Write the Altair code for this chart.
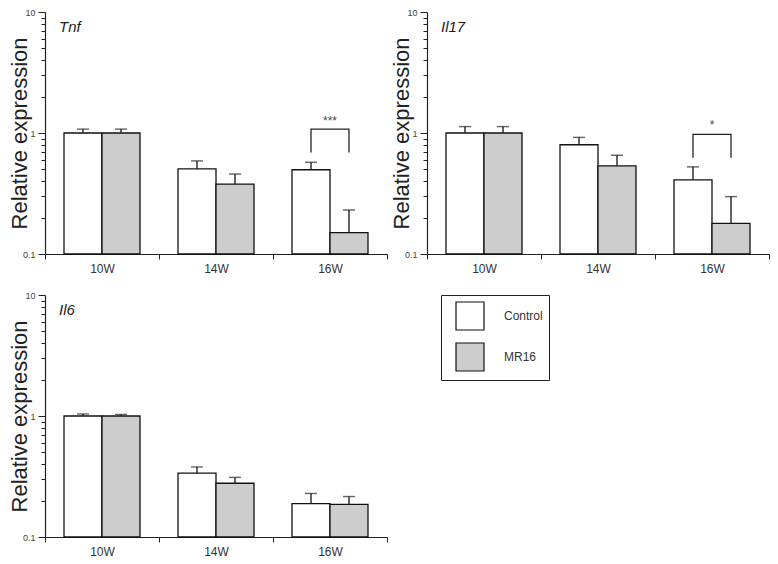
import altair as alt
import pandas as pd

FONT = "Liberation Sans"

weeks = ["10W", "14W", "16W"]
groups = ["Control", "MR16"]

tnf_control = [1.0, 0.506, 0.497]
tnf_control_se = [0.077, 0.082, 0.076]
tnf_mr16 = [1.0, 0.378, 0.150]
tnf_mr16_se = [0.077, 0.080, 0.081]

il17_control = [1.0, 0.80, 0.41]
il17_control_se = [0.13, 0.12, 0.115]
il17_mr16 = [1.0, 0.534, 0.179]
il17_mr16_se = [0.13, 0.121, 0.119]

il6_control = [1.0, 0.337, 0.189]
il6_control_se = [0.04, 0.042, 0.040]
il6_mr16 = [1.0, 0.278, 0.186]
il6_mr16_se = [0.03, 0.033, 0.030]

# significance: (week, bracket leg bottom, bracket top, stars, star baseline)
tnf_sig = ("16W", 0.69, 1.077, "***", 1.17)
il17_sig = ("16W", 0.624, 0.975, "*", 1.07)

y_ticks = [0.1, 0.2, 0.3, 0.4, 0.5, 0.6, 0.7, 0.8, 0.9,
           1, 2, 3, 4, 5, 6, 7, 8, 9, 10]
y_domain = [0.1, 10]
gene_label_y = 6.8

W, H = 342, 242
MAJOR = "datum.value == 0.1 || datum.value == 1 || datum.value == 10"

y_scale = alt.Scale(type="log", domain=y_domain, nice=False)
y_axis = alt.Axis(
    title="Relative expression", titleFontSize=22, titleFontWeight="normal",
    titleColor="#222", titleFont=FONT, titleX=-14,
    values=y_ticks,
    labelExpr="(" + MAJOR + ") ? format(datum.value, '~g') : ''",
    tickSize={"condition": {"test": MAJOR, "value": 7}, "value": 4},
    labelFontSize=9, labelColor="#444", labelFont=FONT, labelPadding=3,
    grid=False, tickColor="#222", domainColor="#222", tickWidth=1, domainWidth=1.2,
)
x_scale = alt.Scale(domain=weeks, paddingInner=0, paddingOuter=0)
x_axis = alt.Axis(
    title=None, labelAngle=0, labelFontSize=12, labelColor="#333", labelFont=FONT,
    tickBand="extent", tickSize=5, tickColor="#222", domainColor="#222",
    labelPadding=4, tickWidth=1, domainWidth=1.2, grid=False,
)
xo_scale = alt.Scale(domain=groups, paddingInner=0, paddingOuter=0.5)


def X():
    return alt.X("week:N", sort=weeks, scale=x_scale, axis=x_axis, title=None)


def XO():
    return alt.XOffset("group:N", sort=groups, scale=xo_scale)


def Y(field):
    return alt.Y(field, type="quantitative", scale=y_scale, axis=y_axis,
                 title="Relative expression")


def make_panel(gene, control, control_se, mr16, mr16_se, sig, legend):
    rows = []
    for i, w in enumerate(weeks):
        rows.append({"week": w, "group": "Control", "mean": control[i],
                     "upper": control[i] + control_se[i]})
        rows.append({"week": w, "group": "MR16", "mean": mr16[i],
                     "upper": mr16[i] + mr16_se[i]})
    df = pd.DataFrame(rows)

    fill = alt.Fill("group:N", sort=groups,
                    scale=alt.Scale(domain=groups, range=["white", "#cdcdcd"]),
                    legend=legend)
    bars = alt.Chart(df).mark_bar(stroke="#111", strokeWidth=1.3).encode(
        x=X(), xOffset=XO(), y=Y("mean"), y2=alt.datum(0.1), fill=fill)
    err = alt.Chart(df).mark_rule(color="#222", strokeWidth=1.4).encode(
        x=X(), xOffset=XO(), y=Y("mean"), y2="upper:Q")
    cap = alt.Chart(df).mark_tick(color="#222", thickness=1.4, size=12,
                                  orient="horizontal").encode(
        x=X(), xOffset=XO(), y=Y("upper"))
    lbl = alt.Chart(pd.DataFrame({"gene": [gene]})).mark_text(
        align="left", baseline="alphabetic", fontStyle="italic", fontSize=15,
        font=FONT, color="#222").encode(
        x=alt.value(14),
        y=alt.Y(datum=gene_label_y, type="quantitative", scale=y_scale,
                axis=y_axis, title="Relative expression"),
        text="gene:N")
    layers = [bars, err, cap, lbl]
    if sig is not None:
        wk, lo, hi, stars, sy = sig
        bdf = pd.DataFrame({
            "week": [wk] * 4,
            "group": ["Control", "Control", "MR16", "MR16"],
            "y": [lo, hi, hi, lo],
            "ord": [0, 1, 2, 3],
        })
        bracket = alt.Chart(bdf).mark_line(color="#222", strokeWidth=1.3).encode(
            x=X(), xOffset=XO(), y=Y("y"), order="ord:Q")
        sdf = pd.DataFrame({"week": [wk], "y": [sy], "t": [stars]})
        star = alt.Chart(sdf).mark_text(fontSize=12, font=FONT, color="#444",
                                        baseline="alphabetic").encode(
            x=X(), y=Y("y"), text="t:N")
        layers += [bracket, star]
    return alt.layer(*layers).properties(width=W, height=H)


legend = alt.Legend(
    title=None, orient="none", legendX=396, legendY=0,
    symbolType="square", symbolSize=784, symbolStrokeColor="#111",
    symbolStrokeWidth=1.2, labelFontSize=12, labelColor="#333", labelFont=FONT,
    padding=6, rowPadding=7, strokeColor="#222", symbolOffset=8,
    labelOffset=19, labelExpr="datum.label + '     '",
)

p1 = make_panel("Tnf", tnf_control, tnf_control_se, tnf_mr16, tnf_mr16_se,
                tnf_sig, None)
p2 = make_panel("Il17", il17_control, il17_control_se, il17_mr16, il17_mr16_se,
                il17_sig, None)
p3 = make_panel("Il6", il6_control, il6_control_se, il6_mr16, il6_mr16_se,
                None, legend)

top = alt.hconcat(p1, p2, spacing=2).resolve_scale(fill="independent")
chart = alt.vconcat(top, p3, spacing=17).resolve_scale(
    fill="independent").properties(
    padding={"left": 0, "top": 0, "right": 0, "bottom": 0},
    background="white",
).configure_view(stroke=None, strokeWidth=0)

chart.save("out.html", embed_options={"renderer": "svg", "actions": False})
